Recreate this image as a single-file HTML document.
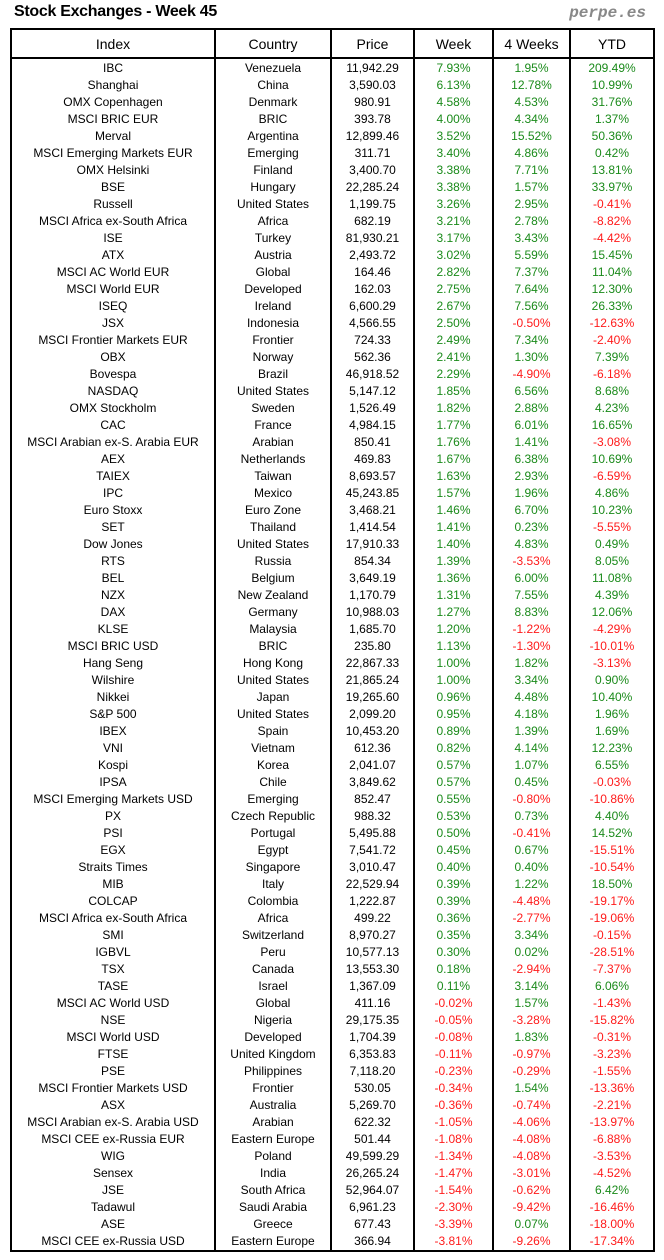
<!DOCTYPE html>
<html><head><meta charset="utf-8">
<style>
body{margin:0;width:664px;height:1260px;background:#fff;font-family:"Liberation Sans","DejaVu Sans",sans-serif;position:relative;overflow:hidden}
#title{position:absolute;left:14px;top:3px;font-size:16px;font-weight:bold;color:#000;letter-spacing:-0.3px}
#brand{position:absolute;right:18px;top:4px;font-family:"Liberation Mono",monospace;font-weight:bold;font-style:italic;font-size:16px;color:#888}
table{position:absolute;left:10px;top:28px;border-collapse:collapse;border:2px solid #000;table-layout:fixed}
th{font-weight:normal;font-size:14px;height:27px;border:2px solid #000;padding:0;color:#000}
td{font-size:12px;height:17px;line-height:17px;padding:0;text-align:center;border-left:2px solid #000;border-right:2px solid #000;white-space:nowrap;overflow:hidden;color:#000}
tr.first td{padding-top:1px}
.pos{color:#1a8a1a}.neg{color:#ff1a1a}
</style></head><body>
<div id="title">Stock Exchanges - Week 45</div>
<div id="brand">perpe.es</div>
<table>
<colgroup><col style="width:204px"><col style="width:116px"><col style="width:83px"><col style="width:79px"><col style="width:77px"><col style="width:84px"></colgroup>
<thead><tr>
<th>Index</th>
<th>Country</th>
<th>Price</th>
<th>Week</th>
<th>4 Weeks</th>
<th>YTD</th>
</tr></thead>
<tbody id="tb"></tbody>
</table>
<script>
const indices=["IBC","Shanghai","OMX Copenhagen","MSCI BRIC EUR","Merval","MSCI Emerging Markets EUR","OMX Helsinki","BSE","Russell","MSCI Africa ex-South Africa","ISE","ATX","MSCI AC World EUR","MSCI World EUR","ISEQ","JSX","MSCI Frontier Markets EUR","OBX","Bovespa","NASDAQ","OMX Stockholm","CAC","MSCI Arabian ex-S. Arabia EUR","AEX","TAIEX","IPC","Euro Stoxx","SET","Dow Jones","RTS","BEL","NZX","DAX","KLSE","MSCI BRIC USD","Hang Seng","Wilshire","Nikkei","S&P 500","IBEX","VNI","Kospi","IPSA","MSCI Emerging Markets USD","PX","PSI","EGX","Straits Times","MIB","COLCAP","MSCI Africa ex-South Africa","SMI","IGBVL","TSX","TASE","MSCI AC World USD","NSE","MSCI World USD","FTSE","PSE","MSCI Frontier Markets USD","ASX","MSCI Arabian ex-S. Arabia USD","MSCI CEE ex-Russia EUR","WIG","Sensex","JSE","Tadawul","ASE","MSCI CEE ex-Russia USD"];
const countries=["Venezuela","China","Denmark","BRIC","Argentina","Emerging","Finland","Hungary","United States","Africa","Turkey","Austria","Global","Developed","Ireland","Indonesia","Frontier","Norway","Brazil","United States","Sweden","France","Arabian","Netherlands","Taiwan","Mexico","Euro Zone","Thailand","United States","Russia","Belgium","New Zealand","Germany","Malaysia","BRIC","Hong Kong","United States","Japan","United States","Spain","Vietnam","Korea","Chile","Emerging","Czech Republic","Portugal","Egypt","Singapore","Italy","Colombia","Africa","Switzerland","Peru","Canada","Israel","Global","Nigeria","Developed","United Kingdom","Philippines","Frontier","Australia","Arabian","Eastern Europe","Poland","India","South Africa","Saudi Arabia","Greece","Eastern Europe"];
const prices=["11,942.29","3,590.03","980.91","393.78","12,899.46","311.71","3,400.70","22,285.24","1,199.75","682.19","81,930.21","2,493.72","164.46","162.03","6,600.29","4,566.55","724.33","562.36","46,918.52","5,147.12","1,526.49","4,984.15","850.41","469.83","8,693.57","45,243.85","3,468.21","1,414.54","17,910.33","854.34","3,649.19","1,170.79","10,988.03","1,685.70","235.80","22,867.33","21,865.24","19,265.60","2,099.20","10,453.20","612.36","2,041.07","3,849.62","852.47","988.32","5,495.88","7,541.72","3,010.47","22,529.94","1,222.87","499.22","8,970.27","10,577.13","13,553.30","1,367.09","411.16","29,175.35","1,704.39","6,353.83","7,118.20","530.05","5,269.70","622.32","501.44","49,599.29","26,265.24","52,964.07","6,961.23","677.43","366.94"];
const week=[7.93,6.13,4.58,4.00,3.52,3.40,3.38,3.38,3.26,3.21,3.17,3.02,2.82,2.75,2.67,2.50,2.49,2.41,2.29,1.85,1.82,1.77,1.76,1.67,1.63,1.57,1.46,1.41,1.40,1.39,1.36,1.31,1.27,1.20,1.13,1.00,1.00,0.96,0.95,0.89,0.82,0.57,0.57,0.55,0.53,0.50,0.45,0.40,0.39,0.39,0.36,0.35,0.30,0.18,0.11,-0.02,-0.05,-0.08,-0.11,-0.23,-0.34,-0.36,-1.05,-1.08,-1.34,-1.47,-1.54,-2.30,-3.39,-3.81];
const weeks4=[1.95,12.78,4.53,4.34,15.52,4.86,7.71,1.57,2.95,2.78,3.43,5.59,7.37,7.64,7.56,-0.50,7.34,1.30,-4.90,6.56,2.88,6.01,1.41,6.38,2.93,1.96,6.70,0.23,4.83,-3.53,6.00,7.55,8.83,-1.22,-1.30,1.82,3.34,4.48,4.18,1.39,4.14,1.07,0.45,-0.80,0.73,-0.41,0.67,0.40,1.22,-4.48,-2.77,3.34,0.02,-2.94,3.14,1.57,-3.28,1.83,-0.97,-0.29,1.54,-0.74,-4.06,-4.08,-4.08,-3.01,-0.62,-9.42,0.07,-9.26];
const ytd=[209.49,10.99,31.76,1.37,50.36,0.42,13.81,33.97,-0.41,-8.82,-4.42,15.45,11.04,12.30,26.33,-12.63,-2.40,7.39,-6.18,8.68,4.23,16.65,-3.08,10.69,-6.59,4.86,10.23,-5.55,0.49,8.05,11.08,4.39,12.06,-4.29,-10.01,-3.13,0.90,10.40,1.96,1.69,12.23,6.55,-0.03,-10.86,4.40,14.52,-15.51,-10.54,18.50,-19.17,-19.06,-0.15,-28.51,-7.37,6.06,-1.43,-15.82,-0.31,-3.23,-1.55,-13.36,-2.21,-13.97,-6.88,-3.53,-4.52,6.42,-16.46,-18.00,-17.34];
const tb=document.getElementById('tb');
function pct(v){return v.toFixed(2)+'%';}
for(let i=0;i<indices.length;i++){
  const tr=document.createElement('tr');
  
  
  if(i===0)tr.className='first';
  const cells=[[indices[i],'','index-cell'],[countries[i],'','country-cell'],[prices[i],'','price-cell'],[pct(week[i]),week[i]<0?'neg':'pos','week-cell'],[pct(weeks4[i]),weeks4[i]<0?'neg':'pos','four-weeks-cell'],[pct(ytd[i]),ytd[i]<0?'neg':'pos','ytd-cell']];
  for(const c of cells){
    const td=document.createElement('td');
    td.textContent=c[0];
    if(c[1])td.className=c[1];
    
    
    tr.appendChild(td);
  }
  tb.appendChild(tr);
}
</script>
</body></html>
